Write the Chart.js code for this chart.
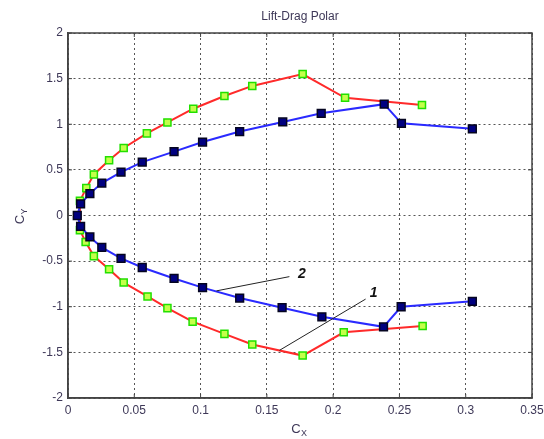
<!DOCTYPE html>
<html>
<head>
<meta charset="utf-8">
<title>Lift-Drag Polar</title>
<script src="https://cdn.jsdelivr.net/npm/chart.js@4/dist/chart.umd.min.js"></script>
<style>
  html, body { margin: 0; padding: 0; background: #fff; }
  #wrap { width: 544px; height: 439px; }
</style>
</head>
<body>
<div id="wrap"><canvas id="polar"></canvas></div>
<script>
// polar curve 1 (red line, green markers), upper branch then lower branch
const cx1 = [0.267, 0.209, 0.177, 0.139, 0.118, 0.0945, 0.075, 0.0595, 0.042, 0.031, 0.0195, 0.0138, 0.009,
             0.009, 0.0133, 0.0195, 0.031, 0.042, 0.060, 0.075, 0.094, 0.118, 0.139, 0.177, 0.208, 0.2675];
const cy1 = [1.21, 1.29, 1.55, 1.42, 1.31, 1.17, 1.02, 0.90, 0.74, 0.605, 0.45, 0.30, 0.16,
             -0.16, -0.29, -0.445, -0.59, -0.735, -0.887, -1.015, -1.163, -1.297, -1.413, -1.535, -1.28, -1.21];

// polar curve 2 (blue line, dark squares)
const cx2 = [0.305, 0.2515, 0.2385, 0.191, 0.162, 0.1295, 0.1015, 0.080, 0.056, 0.040, 0.0255, 0.0165, 0.0095,
             0.007, 0.0095, 0.0165, 0.0255, 0.040, 0.056, 0.080, 0.1015, 0.1295, 0.1615, 0.1915, 0.238, 0.2513, 0.305];
const cy2 = [0.95, 1.01, 1.22, 1.12, 1.025, 0.92, 0.805, 0.70, 0.585, 0.475, 0.355, 0.24, 0.127,
             0, -0.12, -0.235, -0.35, -0.47, -0.57, -0.69, -0.79, -0.905, -1.01, -1.11, -1.22, -1.0, -0.94];

const xTicks = [0, 0.05, 0.1, 0.15, 0.2, 0.25, 0.3, 0.35];
const yTicks = [-2, -1.5, -1, -0.5, 0, 0.5, 1, 1.5, 2];

// callouts: label, line start (on curve), line end, label position
const callouts = [
  { text: '2', from: [0.112, -0.826], to: [0.167, -0.67], at: [0.1765, -0.645] },
  { text: '1', from: [0.1595, -1.478], to: [0.2245, -0.916], at: [0.2305, -0.85] }
];

const toPoints = (xs, ys) => xs.map((x, i) => ({ x: x, y: ys[i] }));
const fmt = v => String(parseFloat(Number(v).toFixed(2)));
const textColor = '#3e3858';

// frame, inward ticks, title, axis names and callouts
const decorations = {
  id: 'decorations',
  afterDraw(chart) {
    const { ctx, chartArea: a, scales: { x, y } } = chart;
    ctx.save();
    ctx.strokeStyle = '#444';
    ctx.lineWidth = 1.5;
    ctx.strokeRect(a.left, a.top, a.right - a.left, a.bottom - a.top);

    ctx.lineWidth = 1;
    ctx.beginPath();
    xTicks.forEach(t => {
      const px = x.getPixelForValue(t);
      ctx.moveTo(px, a.bottom); ctx.lineTo(px, a.bottom - 4);
      ctx.moveTo(px, a.top); ctx.lineTo(px, a.top + 4);
    });
    yTicks.forEach(t => {
      const py = y.getPixelForValue(t);
      ctx.moveTo(a.left, py); ctx.lineTo(a.left + 4, py);
      ctx.moveTo(a.right, py); ctx.lineTo(a.right - 4, py);
    });
    ctx.stroke();

    ctx.fillStyle = textColor;
    ctx.textAlign = 'center';
    ctx.textBaseline = 'middle';
    ctx.font = '12px "Liberation Sans", Arial, sans-serif';
    ctx.fillText('Lift-Drag Polar', (a.left + a.right) / 2, 17);

    // C with subscript X under the x axis
    const cxX = (a.left + a.right) / 2 - 4;
    ctx.font = '13px "Liberation Sans", Arial, sans-serif';
    ctx.fillText('C', cxX, 429);
    ctx.font = '9px "Liberation Sans", Arial, sans-serif';
    ctx.fillText('X', cxX + 8, 434);

    // C with subscript Y beside the y axis
    ctx.save();
    ctx.translate(20, (a.top + a.bottom) / 2 + 4);
    ctx.rotate(-Math.PI / 2);
    ctx.font = '13px "Liberation Sans", Arial, sans-serif';
    ctx.fillText('C', 0, 0);
    ctx.font = '9px "Liberation Sans", Arial, sans-serif';
    ctx.fillText('Y', 8, 5);
    ctx.restore();

    ctx.strokeStyle = '#222';
    ctx.lineWidth = 1;
    ctx.font = 'italic bold 14px "Liberation Sans", Arial, sans-serif';
    ctx.fillStyle = '#111';
    callouts.forEach(c => {
      ctx.beginPath();
      ctx.moveTo(x.getPixelForValue(c.from[0]), y.getPixelForValue(c.from[1]));
      ctx.lineTo(x.getPixelForValue(c.to[0]), y.getPixelForValue(c.to[1]));
      ctx.stroke();
      ctx.fillText(c.text, x.getPixelForValue(c.at[0]), y.getPixelForValue(c.at[1]));
    });
    ctx.restore();
  }
};

const ctx = document.getElementById('polar').getContext('2d');
const polarChart = new Chart(ctx, {
  type: 'scatter',
  data: {
    datasets: [
      {
        label: '2',
        data: toPoints(cx2, cy2),
        showLine: true,
        order: 1,
        borderColor: '#2a2aff',
        borderWidth: 2,
        pointStyle: 'rect',
        pointRadius: 5.5,
        pointBackgroundColor: '#000080',
        pointBorderColor: '#050520',
        pointBorderWidth: 1.5
      },
      {
        label: '1',
        data: toPoints(cx1, cy1),
        showLine: true,
        order: 2,
        borderColor: '#ff2a2a',
        borderWidth: 2,
        pointStyle: 'rect',
        pointRadius: 5,
        pointBackgroundColor: '#c4ff4a',
        pointBorderColor: '#22e000',
        pointBorderWidth: 1.5
      }
    ]
  },
  options: {
    responsive: true,
    maintainAspectRatio: false,
    animation: false,
    layout: { padding: { top: 33, right: 12, left: 0, bottom: 0 } },
    plugins: {
      legend: { display: false },
      tooltip: { enabled: false }
    },
    scales: {
      x: {
        type: 'linear',
        min: 0,
        max: 0.35,
        afterBuildTicks: s => { s.ticks = xTicks.map(v => ({ value: v })); },
        afterFit: s => { s.height = 41; s.paddingLeft = 0; s.paddingRight = 0; },
        ticks: {
          padding: 5,
          maxRotation: 0,
          autoSkip: false,
          color: textColor,
          font: { family: '"Liberation Sans", Arial, sans-serif', size: 12 },
          callback: v => fmt(v)
        },
        grid: { color: '#555', lineWidth: 1, drawTicks: false },
        border: { display: true, color: '#444', width: 1.5, dash: [2, 3] }
      },
      y: {
        type: 'linear',
        min: -2,
        max: 2,
        afterBuildTicks: s => { s.ticks = yTicks.map(v => ({ value: v })); },
        afterFit: s => { s.width = 68; s.paddingTop = 0; s.paddingBottom = 0; },
        ticks: {
          padding: 5,
          autoSkip: false,
          color: textColor,
          font: { family: '"Liberation Sans", Arial, sans-serif', size: 12 },
          callback: v => fmt(v)
        },
        grid: { color: '#555', lineWidth: 1, drawTicks: false },
        border: { display: true, color: '#444', width: 1.5, dash: [2, 3] }
      }
    }
  },
  plugins: [decorations]
});
</script>
</body>
</html>
